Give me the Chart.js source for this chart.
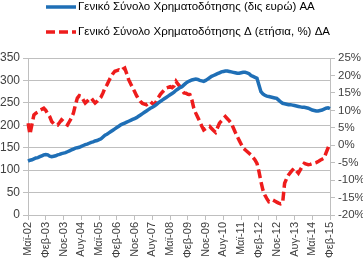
<!DOCTYPE html>
<html>
<head>
<meta charset="utf-8">
<script src="https://cdn.jsdelivr.net/npm/chart.js@4/dist/chart.umd.min.js"></script>
<style>
  html, body { margin: 0; padding: 0; background: #fff; }
  #wrap { width: 363px; height: 267px; }
</style>
</head>
<body>
<div id="wrap"><canvas id="chart" width="363" height="267"></canvas></div>
<script>
// month names and first month of the series (May 2002 .. Feb 2015)
const monthNames = ["Ιαν", "Φεβ", "Μαρ", "Απρ", "Μαϊ", "Ιουν", "Ιουλ", "Αυγ", "Σεπ", "Οκτ", "Νοε", "Δεκ"];
const startYear = 2002;
const startMonth = 4;

// Γενικό Σύνολο Χρηματοδότησης (δις ευρώ) - left axis
const totalFinancing = [
  120, 122, 123, 125, 127, 128, 130, 132, 134, 135,
  134, 131, 130,
  131, 132, 134, 135, 137, 138, 139,
  141, 143, 145, 147, 149,
  150, 151, 153, 155, 157, 158, 160, 162,
  163, 165, 166, 168, 170,
  174, 178,
  180, 183, 186, 189, 192, 195, 198, 201,
  203, 205, 207, 209, 211, 213, 215, 217, 220, 223,
  226, 229, 232, 235, 238, 240, 243, 246, 250, 253,
  256, 259, 262, 265, 268, 271, 274, 278,
  281, 284, 286, 290, 294,
  297, 299, 301, 302, 303,
  302, 300, 299, 298,
  300, 303, 306, 309, 311,
  313, 315, 317, 319, 320, 321,
  321, 320, 319, 318, 317, 316,
  316, 317, 318, 318,
  317, 315, 311, 309, 307, 305,
  290, 275,
  270, 267, 265, 264,
  263, 262, 261, 260,
  256, 252, 249,
  248, 247, 246, 246, 245, 244,
  243, 242, 241, 240, 240, 239, 238,
  236, 234, 233, 232,
  232, 233, 234,
  236, 238, 239, 237
];

// Γενικό Σύνολο Χρηματοδότησης Δ (ετήσια, %) - right axis
const annualChange = [
  6.3, 3.2, 6, 8.7, 9.2, 9.5, 10, 10.3, 10.6, 10,
  9, 8.2, 6.8, 6.2, 5.9, 5.8, 6.5, 7.3, 6.8, 6.2,
  5.8, 6.8, 7.8, 9.2, 11.5, 13.5, 14.2, 14, 13, 12.1,
  12.6, 13.2, 13.5, 12.8, 12.1, 12.6, 13.2, 13.8, 15, 16.4,
  17.3, 18.5, 19.6, 20.5, 21.2, 21.4, 21.6, 21.3, 21.8, 22.1,
  20.5, 18.8, 17.6, 16.5, 15.4, 14.2, 13.2, 12.5, 12, 11.8,
  11.6, 12, 12.5, 12, 11.6, 12.6, 13.6, 14.5, 15.2, 15.8,
  16.4, 16.6, 16.8, 16.5, 17, 18.3, 17.5, 16.8, 15.8, 15,
  14.9, 14.6, 14.5, 13, 10.6, 9.2, 8, 6.8, 5.5, 4.4,
  4.8, 5.2, 5.4, 4.8, 4.2, 3.7, 5, 6.3, 7, 7.6,
  8.2, 7.6, 7, 6.3, 5, 3.7, 2.5, 1.4, 0.3, -0.8,
  -1.3, -1.8, -2.3, -2.8, -3.5, -4.2, -5.2, -7.5, -10.4, -12.8,
  -14.3, -15.3, -16.2, -16, -15.7, -16, -16.3, -16.6, -16.8, -16.6,
  -10.9, -9.6, -8.5, -7.8, -7.1, -6.6, -7.3, -8, -7, -6,
  -5.2, -5.4, -5.6, -5.5, -5.3, -5.2, -5, -4.7, -4.3, -4,
  -3.7, -2.2, -0.8, 0.6
];

const labelStep = 9;

const labels = totalFinancing.map((_, i) => {
  const m = (startMonth + i) % 12;
  const y = startYear + Math.floor((startMonth + i) / 12);
  return monthNames[m] + "-" + String(y % 100).padStart(2, "0");
});

const font = "'Liberation Sans', Arial, sans-serif";
const textColor = "#404040";
const gridColor = "#bfbfbf";

// legend drawn as two stacked rows, like the original
const stackedLegend = {
  id: "stackedLegend",
  afterDraw(chart) {
    const ctx = chart.ctx;
    const rows = [7, 32];
    ctx.save();
    chart.data.datasets.forEach((ds, i) => {
      const y = rows[i];
      ctx.strokeStyle = ds.borderColor;
      ctx.lineWidth = ds.borderWidth;
      ctx.setLineDash(ds.borderDash || []);
      ctx.beginPath();
      ctx.moveTo(46, y);
      ctx.lineTo(76, y);
      ctx.stroke();
      ctx.setLineDash([]);
      ctx.fillStyle = "#000";
      ctx.font = "11.5px " + font;
      ctx.textBaseline = "middle";
      ctx.fillText(ds.label, 78, y);
    });
    ctx.restore();
  }
};

new Chart(document.getElementById("chart").getContext("2d"), {
  type: "line",
  data: {
    labels: labels,
    datasets: [
      {
        label: "Γενικό Σύνολο Χρηματοδότησης (δις ευρώ) ΑΑ",
        data: totalFinancing,
        borderColor: "#1f6fb6",
        backgroundColor: "#1f6fb6",
        borderWidth: 3.5,
        pointRadius: 0,
        tension: 0,
        yAxisID: "y"
      },
      {
        label: "Γενικό Σύνολο Χρηματοδότησης Δ (ετήσια, %) ΔΑ",
        data: annualChange,
        borderColor: "#ee1c1c",
        backgroundColor: "#ee1c1c",
        borderWidth: 3.5,
        borderDash: [9, 4],
        pointRadius: 0,
        tension: 0,
        yAxisID: "y1"
      }
    ]
  },
  options: {
    responsive: false,
    animation: false,
    layout: { padding: { left: 0, right: 0, top: 58, bottom: 0 } },
    plugins: {
      legend: { display: false },
      tooltip: { enabled: false }
    },
    scales: {
      x: {
        grid: { drawOnChartArea: false, color: gridColor, tickLength: 5 },
        border: { color: gridColor },
        afterFit: (axis) => { axis.height = 52; },
        ticks: {
          autoSkip: false,
          minRotation: 90,
          maxRotation: 90,
          color: textColor,
          padding: 2,
          font: { family: font, size: 11 },
          callback: function (value, index) {
            return index % labelStep === 0 ? labels[index] : null;
          }
        }
      },
      y: {
        position: "left",
        min: 0,
        max: 350,
        afterFit: (axis) => { axis.width = 28; },
        grid: { color: gridColor, tickLength: 5 },
        border: { color: gridColor },
        ticks: {
          stepSize: 50,
          color: textColor,
          padding: 3,
          font: { family: font, size: 12 }
        }
      },
      y1: {
        position: "right",
        min: -20,
        max: 25,
        afterFit: (axis) => { axis.width = 33; },
        grid: { drawOnChartArea: false, color: gridColor, tickLength: 5 },
        border: { color: gridColor },
        ticks: {
          stepSize: 5,
          color: textColor,
          padding: 3,
          font: { family: font, size: 11.5 },
          callback: (v) => v + "%"
        }
      }
    }
  },
  plugins: [stackedLegend]
});
</script>
</body>
</html>
